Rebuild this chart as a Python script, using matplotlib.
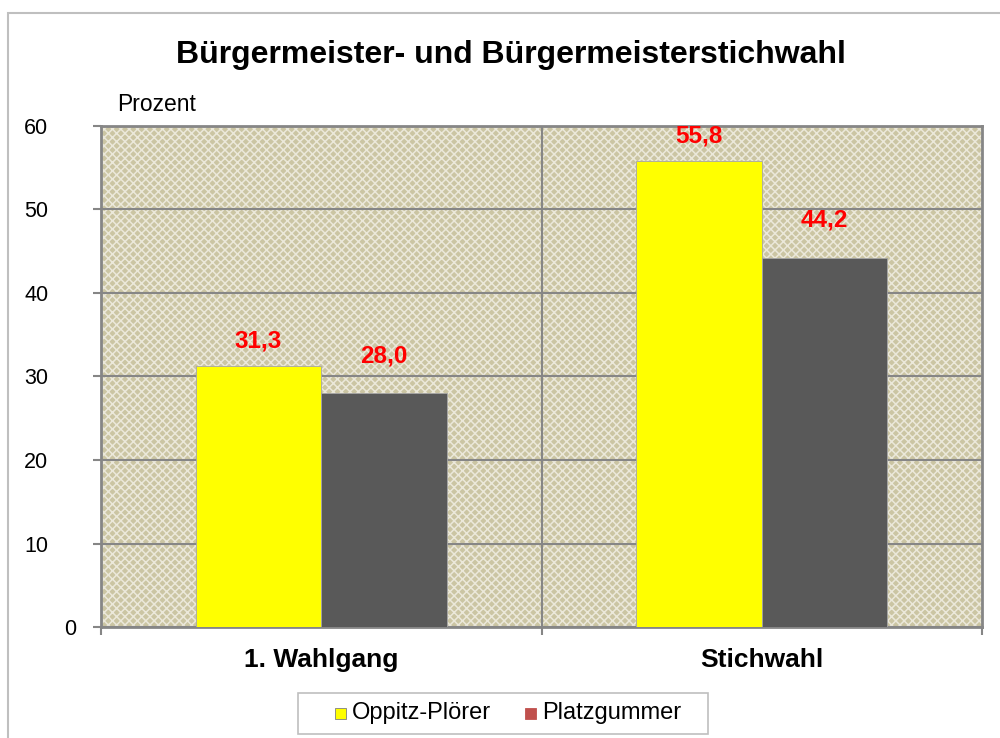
import numpy as np
import matplotlib
matplotlib.use("Agg")
import matplotlib.pyplot as plt
import matplotlib.transforms as mtransforms
from matplotlib.patches import Rectangle

plt.rcParams["font.family"] = ["Liberation Sans", "DejaVu Sans"]
plt.rcParams["hatch.linewidth"] = 1.1

# ---- data ----
categories = ["1. Wahlgang", "Stichwahl"]
series_names = ["Oppitz-Plörer", "Platzgummer"]
oppitz = [31.3, 55.8]
platz = [28.0, 44.2]

C_YEL = "#ffff00"
C_GRAY = "#595959"
C_LEG2 = "#c0504d"
C_GRID = "#868686"

W, H = 1000, 738
fig = plt.figure(figsize=(W / 100, H / 100), dpi=100)
ax = fig.add_axes([0.101, 0.1504, 0.881, 0.6789])

def px(x0, y0, w, h):
    # pixel box (top-left origin) -> figure fraction rectangle args
    return (x0 / W, 1 - (y0 + h) / H), w / W, h / H

# outer chart border
fig.patches.append(Rectangle((0.008, -0.05), 1.05, 1.0324, transform=fig.transFigure,
                             fill=False, edgecolor="#bfbfbf", lw=1.5))

# textured plot area
ax.add_patch(Rectangle((0, 0), 1, 1, transform=ax.transAxes, facecolor="#cbc5a3",
                       edgecolor="#ebe8da", hatch="xxxx", lw=0, zorder=0))

x = np.arange(len(categories)) + 0.5
w = 0.285
ax.bar(x - w / 2, oppitz, w, color=C_YEL, edgecolor="#a6a6a6", lw=0.6, zorder=3)
ax.bar(x + w / 2, platz, w, color=C_GRAY, edgecolor="#a6a6a6", lw=0.6, zorder=3)

for xi, v in zip(x - w / 2, oppitz):
    ax.text(xi, v + 3.0, f"{v:.1f}".replace(".", ","), ha="center", va="center",
            fontsize=17.5, fontweight="bold", color="red", zorder=5)
for xi, v in zip(x + w / 2, platz):
    ax.text(xi, v + 4.5, f"{v:.1f}".replace(".", ","), ha="center", va="center",
            fontsize=17.5, fontweight="bold", color="red", zorder=5)

ax.set_xlim(0, 2)
ax.set_ylim(0, 60)
ax.set_yticks(range(0, 61, 10))
ax.set_xticks([0, 1, 2])
ax.set_xticklabels([])
ax.grid(axis="y", color=C_GRID, lw=1.5, zorder=1)
ax.axvline(1, color=C_GRID, lw=1.5, zorder=1)
ax.set_axisbelow(True)
for s in ax.spines.values():
    s.set_color(C_GRID)
    s.set_linewidth(2)
ax.tick_params(axis="y", labelsize=15.5, length=6, width=1.5, color=C_GRID, pad=32)
ax.tick_params(axis="x", length=6, width=1.5, color=C_GRID)
# the "0" label sits further right in the original
zero_lab = ax.get_yticklabels()[0]
zero_lab.set_transform(zero_lab.get_transform() +
                       mtransforms.ScaledTranslation(0.28, 0, fig.dpi_scale_trans))

for xi, c in zip(x, categories):
    ax.text(xi, -3.95, c, ha="center", va="center", fontsize=19, fontweight="bold")

fig.text(0.117, 0.859, "Prozent", fontsize=16.5, ha="left", va="center")
fig.text(0.511, 0.925, "Bürgermeister- und Bürgermeisterstichwahl", fontsize=23,
         fontweight="bold", ha="center", va="center")

# legend, drawn by hand to match the original spacing
xy, bw, bh = px(298, 693, 410, 41)
fig.patches.append(Rectangle(xy, bw, bh, transform=fig.transFigure, facecolor="white",
                             edgecolor="#bfbfbf", lw=1.2))
leg_items = [(335, C_YEL, "#7f7f7f"), (525, C_LEG2, C_LEG2)]
for (lx, fc, ec), name in zip(leg_items, series_names):
    xy, bw, bh = px(lx, 708, 11, 11)
    fig.patches.append(Rectangle(xy, bw, bh, transform=fig.transFigure, facecolor=fc,
                                 edgecolor=ec, lw=0.6))
    fig.text((lx + 17) / W, 1 - 713.5 / H, name, fontsize=17, ha="left", va="center")

fig.savefig("out.png", dpi=100)
